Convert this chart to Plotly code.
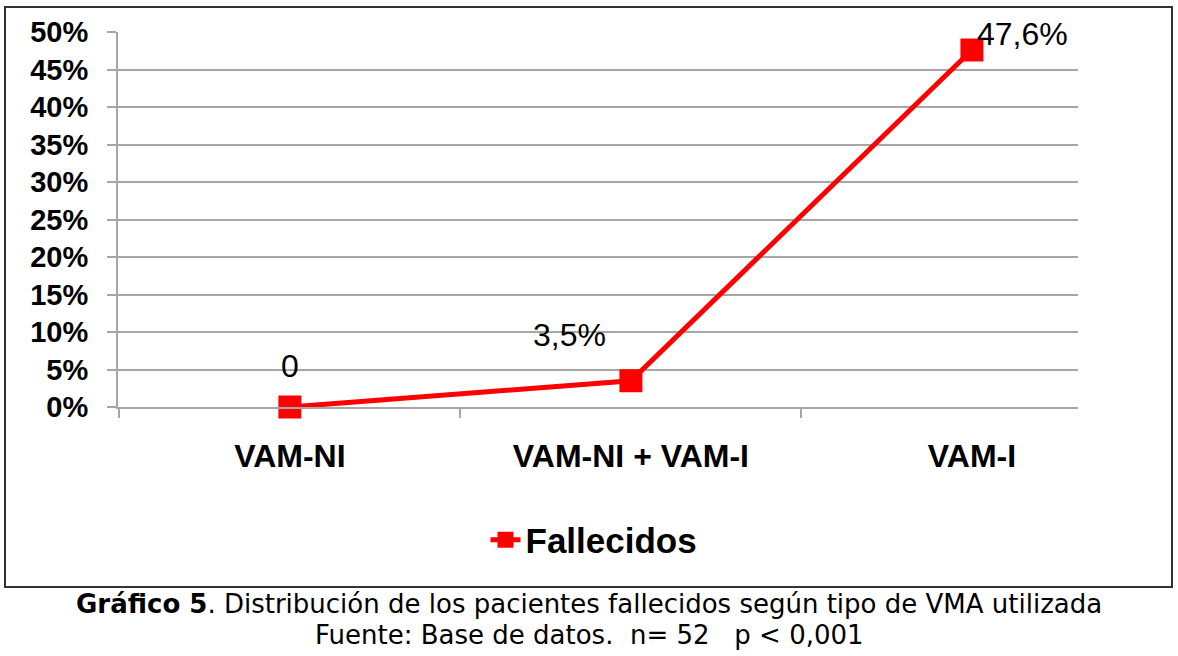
import plotly.graph_objects as go

categories = ["VAM-NI", "VAM-NI + VAM-I", "VAM-I"]
fallecidos = [0.0, 0.035, 0.476]
data_labels = ["0", "3,5%", "47,6%"]
series_name = "Fallecidos"
y_ticks = [0, 0.05, 0.10, 0.15, 0.20, 0.25, 0.30, 0.35, 0.40, 0.45, 0.50]
caption_bold = "Gráfico 5"
caption_rest = ". Distribución de los pacientes fallecidos según tipo de VMA utilizada"
caption_line2 = "Fuente: Base de datos.&nbsp;&nbsp;n= 52&nbsp;&nbsp;&nbsp;p &lt; 0,001"

RED = "#ff0000"
GRID = "#a6a6a6"
SANS = "Liberation Sans, Arial, sans-serif"
VERD = "DejaVu Sans, Verdana, sans-serif"

fig = go.Figure()
fig.add_trace(go.Scatter(
    x=categories, y=fallecidos, name=series_name, mode="lines+markers",
    line=dict(color=RED, width=5),
    marker=dict(symbol="square", size=23, color=RED),
    cliponaxis=False, showlegend=True,
))

# data labels with pixel offsets from their points
offsets = [(0, 41), (-61, 46), (51, 16)]
for cat, val, lab, (dx, dy) in zip(categories, fallecidos, data_labels, offsets):
    fig.add_annotation(x=cat, y=val, xref="x", yref="y", text=lab, showarrow=False,
                       xshift=dx, yshift=dy,
                       font=dict(family=SANS, size=32, color="#000000"))

L, R, T, B = 118, 1078, 32, 407
W, H = R - L, B - T

def px(x):
    return (x - L) / W

def py(y):
    return (B - y) / H

# outer frame
fig.add_shape(type="rect", xref="paper", yref="paper",
              x0=px(5), x1=px(1172), y0=py(587), y1=py(7),
              line=dict(color="#333333", width=2), fillcolor="rgba(0,0,0,0)", layer="below")

# caption
fig.add_annotation(xref="paper", yref="paper", x=px(589), y=py(604), showarrow=False,
                   text="<b>" + caption_bold + "</b>" + caption_rest,
                   font=dict(family=VERD, size=26, color="#000000"),
                   xanchor="center", yanchor="middle")
fig.add_annotation(xref="paper", yref="paper", x=px(589), y=py(635), showarrow=False,
                   text=caption_line2,
                   font=dict(family=VERD, size=26, color="#000000"),
                   xanchor="center", yanchor="middle")

fig.update_layout(
    width=1178, height=656,
    margin=dict(l=L, r=1178 - R, t=T, b=656 - B, pad=0),
    paper_bgcolor="#ffffff", plot_bgcolor="#ffffff",
    showlegend=True,
    legend=dict(orientation="h", x=px(594), y=py(540), xanchor="center", yanchor="middle",
                font=dict(family=SANS, size=35, color="#000000", weight="bold"),
                bgcolor="rgba(0,0,0,0)"),
    xaxis=dict(type="category", range=[-0.504, 2.311], showgrid=False,
               showline=True, linecolor=GRID, linewidth=2,
               ticks="outside", tickson="boundaries", ticklen=9, tickcolor=GRID, tickwidth=2,
               ticklabelstandoff=20,
               tickfont=dict(family=SANS, size=32, color="#000000", weight="bold"),
               zeroline=False, fixedrange=True),
    yaxis=dict(range=[0, 0.5], tickvals=y_ticks, tickformat=".0%",
               showgrid=True, gridcolor=GRID, gridwidth=2,
               showline=True, linecolor=GRID, linewidth=2,
               ticks="outside", ticklen=9, tickcolor=GRID, tickwidth=2,
               ticklabelstandoff=13,
               tickfont=dict(family=SANS, size=29, color="#000000", weight="bold"),
               zeroline=False, fixedrange=True),
)

fig.write_html("out.html", config={"displayModeBar": False},
               post_script="document.body.style.margin='0';document.body.style.overflow='hidden';")
